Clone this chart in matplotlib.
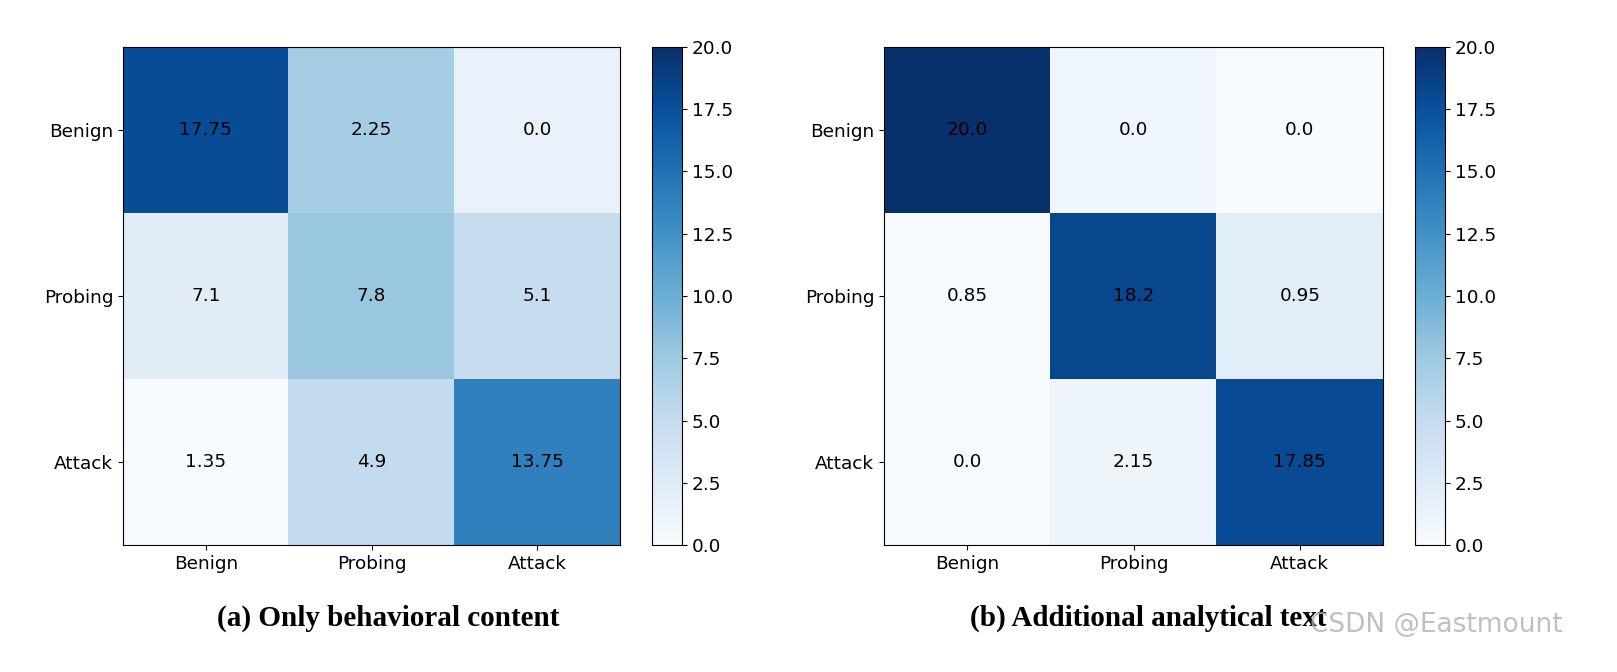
import matplotlib.pyplot as plt
import numpy as np

labels = ["Benign", "Probing", "Attack"]
cm_a = np.array([[17.75, 2.25, 0.0],
                 [7.1, 7.8, 5.1],
                 [1.35, 4.9, 13.75]])
cm_b = np.array([[20.0, 0.0, 0.0],
                 [0.85, 18.2, 0.95],
                 [0.0, 2.15, 17.85]])
captions = ["(a) Only behavioral content", "(b) Additional analytical text"]

W, H = 1617, 672
fig = plt.figure(figsize=(W / 100, H / 100), dpi=100)


def draw(cm, ax_box, cb_box, caption, cap_x):
    ax = fig.add_axes(ax_box)
    cax = fig.add_axes(cb_box)
    # the original colours the cells with the transposed matrix
    im = ax.imshow(cm.T, cmap="Blues", vmin=0, vmax=20, aspect="auto")
    ax.set_xticks(range(3))
    ax.set_yticks(range(3))
    ax.set_xticklabels(labels, fontsize=13.3)
    ax.set_yticklabels(labels, fontsize=13.3)
    for i in range(3):
        for j in range(3):
            ax.text(j, i, str(cm[i, j]), ha="center", va="center", fontsize=13.3, color="black")
    cb = fig.colorbar(im, cax=cax)
    cb.set_ticks(np.arange(0, 20.1, 2.5))
    cb.ax.tick_params(labelsize=13.3)
    fig.text(cap_x, 1 - 618 / H, caption, ha="center", va="center",
             fontsize=21, fontweight="bold", family="Liberation Serif")


bot = 1 - 545 / H
hgt = (545 - 47) / H
draw(cm_a, [123 / W, bot, (620 - 123) / W, hgt], [652 / W, bot, 30 / W, hgt], captions[0], 388 / W)
draw(cm_b, [884 / W, bot, (1383 - 884) / W, hgt], [1415 / W, bot, 30 / W, hgt], captions[1], 1148 / W)

fig.text(1436 / W, 1 - 625 / H, "CSDN @Eastmount", ha="center", va="center",
         fontsize=19, color="#b0b0b0", alpha=0.8)

fig.savefig("out.png", dpi=100)
